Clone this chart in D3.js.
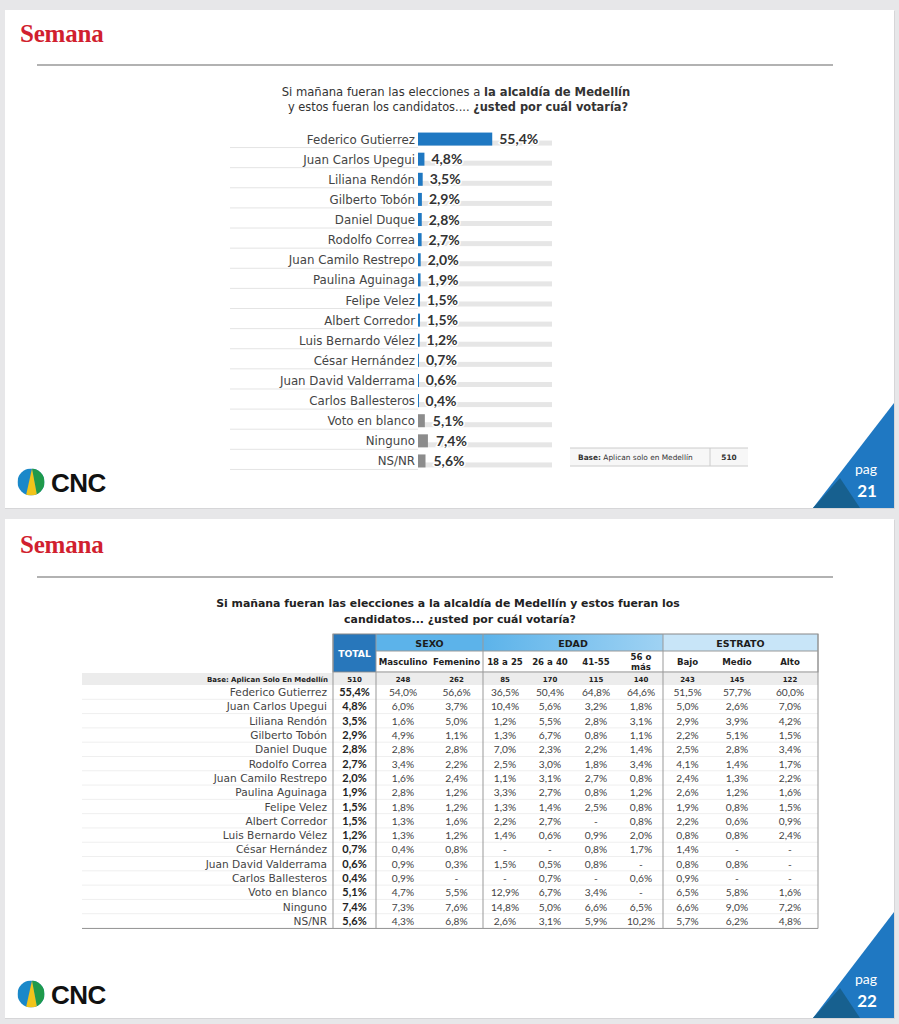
<!DOCTYPE html>
<html><head><meta charset="utf-8">
<script src="https://cdn.jsdelivr.net/npm/d3@7"></script>
<style>
html,body{margin:0;padding:0;background:#e7e7e9;}
svg{display:block;font-family:Lato,"Open Sans",sans-serif;}
</style></head>
<body>
<svg id="c" width="899" height="1024"></svg>
<script>
// ---------- DATA ----------
const candidates = ["Federico Gutierrez","Juan Carlos Upegui","Liliana Rendón","Gilberto Tobón","Daniel Duque","Rodolfo Correa","Juan Camilo Restrepo","Paulina Aguinaga","Felipe Velez","Albert Corredor","Luis Bernardo Vélez","César Hernández","Juan David Valderrama","Carlos Ballesteros","Voto en blanco","Ninguno","NS/NR"];
const nonCandidates = ["Voto en blanco","Ninguno","NS/NR"];
const total     = [55.4,4.8,3.5,2.9,2.8,2.7,2.0,1.9,1.5,1.5,1.2,0.7,0.6,0.4,5.1,7.4,5.6];
const masculino = [54.0,6.0,1.6,4.9,2.8,3.4,1.6,2.8,1.8,1.3,1.3,0.4,0.9,0.9,4.7,7.3,4.3];
const femenino  = [56.6,3.7,5.0,1.1,2.8,2.2,2.4,1.2,1.2,1.6,1.2,0.8,0.3,null,5.5,7.6,6.8];
const edad18_25 = [36.5,10.4,1.2,1.3,7.0,2.5,1.1,3.3,1.3,2.2,1.4,null,1.5,null,12.9,14.8,2.6];
const edad26_40 = [50.4,5.6,5.5,6.7,2.3,3.0,3.1,2.7,1.4,2.7,0.6,null,0.5,0.7,6.7,5.0,3.1];
const edad41_55 = [64.8,3.2,2.8,0.8,2.2,1.8,2.7,0.8,2.5,null,0.9,0.8,0.8,null,3.4,6.6,5.9];
const edad56    = [64.6,1.8,3.1,1.1,1.4,3.4,0.8,1.2,0.8,0.8,2.0,1.7,null,0.6,null,6.5,10.2];
const bajo      = [51.5,5.0,2.9,2.2,2.5,4.1,2.4,2.6,1.9,2.2,0.8,1.4,0.8,0.9,6.5,6.6,5.7];
const medio     = [57.7,2.6,3.9,5.1,2.8,1.4,1.3,1.2,0.8,0.6,0.8,null,0.8,null,5.8,9.0,6.2];
const alto      = [60.0,7.0,4.2,1.5,3.4,1.7,2.2,1.6,1.5,0.9,2.4,null,null,null,1.6,7.2,4.8];
const groupLabels = ["SEXO","EDAD","ESTRATO"];
const columnLabels = ["Masculino","Femenino","18 a 25","26 a 40","41-55","56 o más","Bajo","Medio","Alto"];
const columnGroups = ["SEXO","SEXO","EDAD","EDAD","EDAD","EDAD","ESTRATO","ESTRATO","ESTRATO"];
const columnValues = [masculino,femenino,edad18_25,edad26_40,edad41_55,edad56,bajo,medio,alto];
const baseTotal = 510;
const columnBases = [248,262,85,170,115,140,243,145,122];
const baseLabelTop = "Aplican solo en Medellín";
const baseLabelTable = "Base: Aplican Solo En Medellín";

// ---------- LAYOUT ----------
const svg = d3.select("#c");
const WIDE = "DejaVu Sans, Verdana, sans-serif";
const loc = d3.formatLocale({decimal:",",thousands:".",grouping:[3],currency:["$",""]});
const f1 = loc.format(".1f");
const pct = v => v == null ? "-" : f1(v) + "%";
const blue = "#1f78c2", darkBlue = "#17608f", grey = "#8c8c8c";

function slide(y0, y1){
  svg.append("rect").attr("x",5).attr("y",y0+1).attr("width",890).attr("height",y1-y0).attr("fill","#d6d6d8");
  svg.append("rect").attr("x",5).attr("y",y0).attr("width",889).attr("height",y1-y0).attr("fill","#fff");
}
function header(yBase, yLine){
  svg.append("text").attr("x",20).attr("y",yBase).text("Semana")
    .attr("font-family","Liberation Serif, serif").attr("font-weight","bold")
    .attr("font-size",25).attr("fill","#d11f2f").attr("letter-spacing",-0.2);
  svg.append("line").attr("x1",37).attr("x2",833).attr("y1",yLine).attr("y2",yLine)
    .attr("stroke","#666").attr("stroke-width",1.2);
}
function cnc(cy){
  const cx = 31, r = 13.5;
  const id = "clip"+cy;
  svg.append("clipPath").attr("id",id).append("circle").attr("cx",cx).attr("cy",cy).attr("r",r);
  const g = svg.append("g").attr("clip-path",`url(#${id})`);
  g.append("rect").attr("x",cx-r).attr("y",cy-r).attr("width",2*r).attr("height",2*r).attr("fill","#1a88c9");
  g.append("polygon").attr("points",`${cx+1},${cy-r} ${cx+r},${cy-r} ${cx+r},${cy+r} ${cx+6},${cy+r}`).attr("fill","#1f9a4b");
  g.append("polygon").attr("points",`${cx+1},${cy-r} ${cx+6},${cy+r} ${cx-5},${cy+r}`).attr("fill","#f1c41a");
  svg.append("text").attr("x",51).attr("y",cy+10).text("CNC")
    .attr("font-family","Liberation Sans, Arial, sans-serif").attr("font-weight","bold")
    .attr("font-size",26).attr("fill","#111").attr("letter-spacing",-0.5);
}
function pag(yBottom, yApex, num){
  const xr = 894, xl = 813;
  svg.append("polygon").attr("points",`${xr},${yApex} ${xr},${yBottom} ${xl},${yBottom}`).attr("fill",blue);
  svg.append("polygon").attr("points",`${xl},${yBottom} ${xl+27},${yBottom-30} ${xl+47},${yBottom}`).attr("fill",darkBlue);
  svg.append("text").attr("x",866).attr("y",yBottom-34).attr("text-anchor","middle").text("pag")
    .attr("fill","#fff").attr("font-size",14);
  svg.append("text").attr("x",867).attr("y",yBottom-11).attr("text-anchor","middle").text(num)
    .attr("fill","#fff").attr("font-size",17).attr("font-weight","bold");
}

// ---------- SLIDE 1 ----------
slide(10, 508);
header(42, 65);
const t1 = svg.append("text").attr("text-anchor","middle").attr("font-family",WIDE).attr("font-size",11.6).attr("fill","#333");
const l1 = t1.append("tspan").attr("x",456).attr("y",96);
l1.append("tspan").text("Si mañana fueran las elecciones a ");
l1.append("tspan").attr("font-weight","bold").text("la alcaldía de Medellín");
const t1b = svg.append("text").attr("text-anchor","middle").attr("font-family",WIDE).attr("font-size",11.4).attr("fill","#333").attr("x",458).attr("y",111);
t1b.append("tspan").text("y estos  fueran los candidatos.... ");
t1b.append("tspan").attr("font-weight","bold").text("¿usted por cuál votaría?");

const yb = d3.scaleBand().domain(candidates).range([129,471]);
const xb = d3.scaleLinear().domain([0,100]).range([418,552]);
const chart = svg.append("g");
candidates.forEach((c,i)=>{
  const cy = yb(c) + yb.bandwidth()/2;
  chart.append("line").attr("x1",230).attr("x2",418).attr("y1",cy+8.5).attr("y2",cy+8.5).attr("stroke","#e4e4e4");
  chart.append("rect").attr("x",xb(0)).attr("y",cy+1.5).attr("width",xb(100)-xb(0)).attr("height",5).attr("fill","#e6e6e6");
});
candidates.forEach((c,i)=>{
  const cy = yb(c) + yb.bandwidth()/2;
  const isNon = nonCandidates.includes(c);
  chart.append("rect").attr("x",xb(0)).attr("y",cy-6.5).attr("width",Math.max(1,xb(total[i])-xb(0))).attr("height",13)
    .attr("fill", isNon ? grey : blue);
  chart.append("text").attr("x",415).attr("y",cy+4.5).attr("text-anchor","end").attr("font-family",WIDE).attr("font-size",11.8).attr("fill","#444").text(c);
  chart.append("text").attr("x",xb(total[i])+ (isNon?8:7)).attr("y",cy+5).attr("font-size",14).attr("font-weight","bold")
    .attr("fill","#333").attr("stroke","#fff").attr("stroke-width",3).attr("paint-order","stroke").text(pct(total[i]));
});
// base box
svg.append("rect").attr("x",570).attr("y",448).attr("width",178).attr("height",18).attr("fill","#f7f7f7");
svg.append("line").attr("x1",570).attr("x2",748).attr("y1",448).attr("y2",448).attr("stroke","#ccc");
svg.append("line").attr("x1",570).attr("x2",748).attr("y1",466).attr("y2",466).attr("stroke","#ccc");
svg.append("line").attr("x1",710).attr("x2",710).attr("y1",448).attr("y2",466).attr("stroke","#ccc");
const bt = svg.append("text").attr("x",578).attr("y",460).attr("font-family",WIDE).attr("font-size",7.4).attr("fill","#333");
bt.append("tspan").attr("font-weight","bold").text("Base:");
bt.append("tspan").text(" " + baseLabelTop);
svg.append("text").attr("x",729).attr("y",460).attr("text-anchor","middle").attr("font-family",WIDE).attr("font-size",7.4).attr("font-weight","bold").attr("fill","#333").text(baseTotal);
cnc(482);
pag(508, 403, "21");

// ---------- SLIDE 2 ----------
slide(519, 1018);
header(553, 577);
svg.append("text").attr("x",448).attr("y",607).attr("text-anchor","middle").attr("font-family",WIDE).attr("font-size",10.9).attr("font-weight","bold").attr("fill","#222")
  .text("Si mañana fueran las elecciones a la alcaldía de Medellín y estos  fueran los");
svg.append("text").attr("x",460).attr("y",623).attr("text-anchor","middle").attr("font-family",WIDE).attr("font-size",10.9).attr("font-weight","bold").attr("fill","#222")
  .text("candidatos... ¿usted por cuál votaría?");

const colEdges = [376,430,483,527,573,619,663,712,762,818];
const xCol = d3.scaleOrdinal().domain(columnLabels).range(columnLabels.map((d,i)=>(colEdges[i]+colEdges[i+1])/2));
const yr = d3.scaleBand().domain(candidates).range([685,928]);
const tbl = svg.append("g");
const totX0 = 333, totX1 = 376, tblL = 82, tblR = 818;
const groupSpan = g => { const idx = columnGroups.map((d,i)=>d===g?i:-1).filter(i=>i>=0); return [colEdges[idx[0]], colEdges[idx[idx.length-1]+1]]; };
const groupFill = {"SEXO":"#5cb3ea","EDAD":"url(#edadGrad)","ESTRATO":"#c8e5f8"};
const defs = svg.append("defs");
const gr = defs.append("linearGradient").attr("id","edadGrad").attr("x1",0).attr("x2",1);
gr.append("stop").attr("offset",0).attr("stop-color","#5cb3ea");
gr.append("stop").attr("offset",1).attr("stop-color","#9fd2f3");

// header row 1
tbl.append("rect").attr("x",totX0).attr("y",634).attr("width",totX1-totX0).attr("height",38).attr("fill","#2877bb");
tbl.append("text").attr("x",(totX0+totX1)/2).attr("y",657).attr("text-anchor","middle").attr("font-family",WIDE).attr("font-size",9.2).attr("font-weight","bold").attr("fill","#fff").text("TOTAL");
groupLabels.forEach(g=>{
  const [a,b] = groupSpan(g);
  tbl.append("rect").attr("x",a).attr("y",634).attr("width",b-a).attr("height",17).attr("fill",groupFill[g]);
  tbl.append("text").attr("x",(a+b)/2).attr("y",646.5).attr("text-anchor","middle").attr("font-family",WIDE).attr("font-size",9.5).attr("font-weight","bold").attr("fill","#1c1c1c").text(g);
});
// header row 2
columnLabels.forEach(c=>{
  const h = tbl.append("text").attr("x",xCol(c)).attr("text-anchor","middle").attr("font-family",WIDE).attr("font-size",8.6).attr("font-weight","bold").attr("fill","#222");
  if (c === "56 o más"){
    const parts = c.split(" o ");
    h.append("tspan").attr("x",xCol(c)).attr("y",660).text(parts[0] + " o");
    h.append("tspan").attr("x",xCol(c)).attr("y",670).text(parts[1]);
  } else {
    h.attr("y",665).text(c);
  }
});
// base row
tbl.append("rect").attr("x",tblL).attr("y",673).attr("width",tblR-tblL).attr("height",12).attr("fill","#ececec");
tbl.append("text").attr("x",328).attr("y",682).attr("text-anchor","end").attr("font-family",WIDE).attr("font-size",7).attr("font-weight","bold").attr("fill","#222").text(baseLabelTable);
tbl.append("text").attr("x",(totX0+totX1)/2).attr("y",682).attr("text-anchor","middle").attr("font-family",WIDE).attr("font-size",7).attr("font-weight","bold").attr("fill","#222").text(baseTotal);
columnLabels.forEach((c,i)=>{
  tbl.append("text").attr("x",xCol(c)).attr("y",682).attr("text-anchor","middle").attr("font-family",WIDE).attr("font-size",7).attr("font-weight","bold").attr("fill","#222").text(columnBases[i]);
});
// row grid
candidates.forEach(c=>{
  const y = yr(c) + yr.step();
  tbl.append("line").attr("x1",tblL).attr("x2",tblR).attr("y1",y).attr("y2",y).attr("stroke","#efefef");
});
// data rows
candidates.forEach((c,i)=>{
  const cy = yr(c) + yr.bandwidth()/2;
  tbl.append("text").attr("x",327).attr("y",cy+4).attr("text-anchor","end").attr("font-family",WIDE).attr("font-size",10.6).attr("fill","#444").text(c);
  tbl.append("text").attr("x",(totX0+totX1)/2).attr("y",cy+4).attr("text-anchor","middle").attr("font-size",11).attr("font-weight","bold").attr("fill","#222").text(pct(total[i]));
  columnLabels.forEach((col,j)=>{
    tbl.append("text").attr("x",xCol(col)).attr("y",cy+4).attr("text-anchor","middle").attr("font-size",10.2).attr("fill","#444").text(pct(columnValues[j][i]));
  });
});
// borders
tbl.append("line").attr("x1",tblL).attr("x2",tblR).attr("y1",928.5).attr("y2",928.5).attr("stroke","#999");
tbl.append("rect").attr("x",totX0).attr("y",634).attr("width",tblR-totX0).attr("height",38).attr("fill","none").attr("stroke","#888");
[totX0, totX1, 483, 663, tblR].forEach(x=>{
  tbl.append("line").attr("x1",x).attr("x2",x).attr("y1",634).attr("y2",928.5).attr("stroke","#999");
});
tbl.append("line").attr("x1",totX1).attr("x2",tblR).attr("y1",651).attr("y2",651).attr("stroke","#999");
cnc(994);
pag(1018, 912, "22");
</script>
</body></html>
